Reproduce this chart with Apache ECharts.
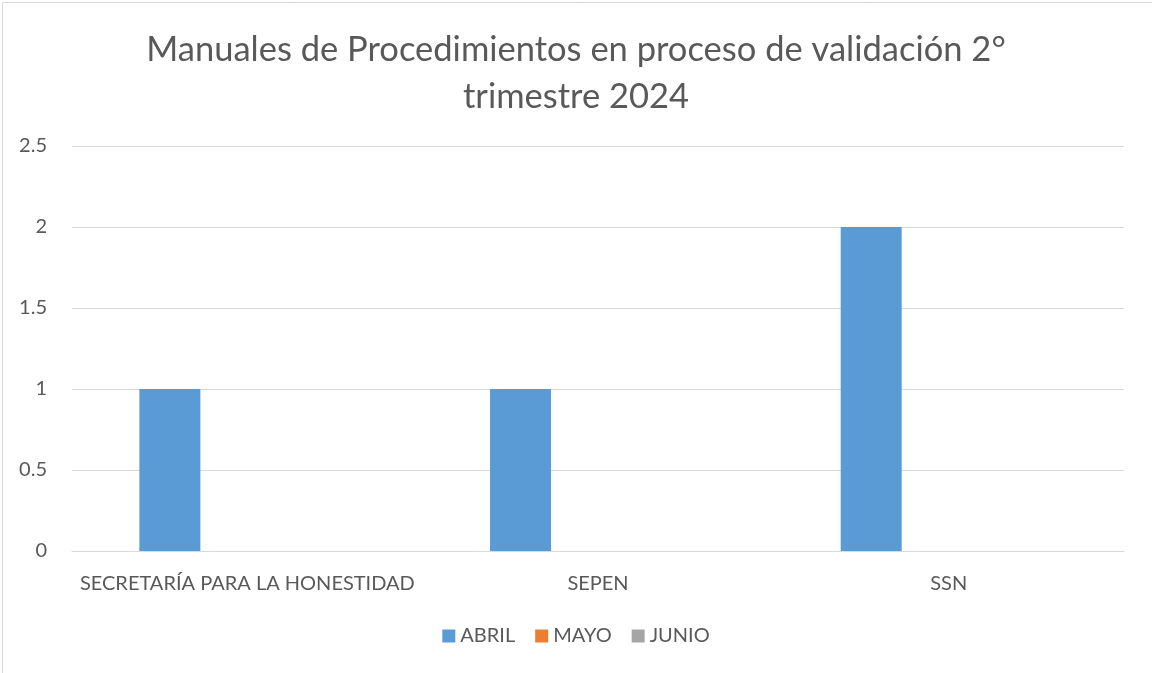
<!DOCTYPE html>
<html><head><meta charset="utf-8">
<script src="https://cdn.jsdelivr.net/npm/echarts@6/dist/echarts.min.js"></script>
<style>html,body{margin:0;padding:0;background:#fff}#c{width:1152px;height:673px}</style>
</head><body><div id="c"></div>
<script>
const titleText = "Manuales de Procedimientos en proceso de validación 2°\ntrimestre 2024";
const categories = ["SECRETARÍA PARA LA HONESTIDAD", "SEPEN", "SSN"];
const seriesNames = ["ABRIL", "MAYO", "JUNIO"];
const abril = [1, 1, 2];
const mayo = [0, 0, 0];
const junio = [0, 0, 0];
const colors = ["#5B9BD5", "#ED7D31", "#A5A5A5"];

const chart = echarts.init(document.getElementById('c'), null, {renderer: 'canvas'});
const font = 'Lato, "Open Sans", sans-serif';
chart.setOption({
  animation: false,
  color: colors,
  title: {
    text: titleText, left: 'center', top: 21,
    textStyle: {fontFamily: font, fontSize: 34.5, fontWeight: 'normal', color: '#595959', lineHeight: 47}
  },
  graphic: [{type: 'rect', shape: {x: 2.5, y: 2.5, width: 1160, height: 680}, style: {fill: 'none', stroke: '#d9d9d9', lineWidth: 1}, silent: true}],
  legend: {
    bottom: 22, left: 'center', itemWidth: 13, itemHeight: 13, itemGap: 20, icon: 'rect',
    textStyle: {fontFamily: font, fontSize: 20, color: '#595959'},
    data: seriesNames
  },
  grid: {left: 72, right: 28, top: 146, bottom: 122},
  xAxis: {
    type: 'category', data: categories,
    axisLine: {lineStyle: {color: '#d9d9d9', width: 1}}, axisTick: {show: false},
    axisLabel: {fontFamily: font, fontSize: 20, color: '#595959', margin: 23, interval: 0, hideOverlap: false}
  },
  yAxis: {
    type: 'value', min: 0, max: 2.5, interval: 0.5,
    axisLine: {show: false}, axisTick: {show: false},
    splitLine: {lineStyle: {color: '#d9d9d9', width: 1}},
    axisLabel: {fontFamily: font, fontSize: 20, color: '#595959', margin: 25}
  },
  series: [
    {name: seriesNames[0], type: 'bar', data: abril, barWidth: 61, barGap: '27%'},
    {name: seriesNames[1], type: 'bar', data: mayo, barWidth: 61, barGap: '27%'},
    {name: seriesNames[2], type: 'bar', data: junio, barWidth: 61, barGap: '27%'}
  ]
});
</script></body></html>
